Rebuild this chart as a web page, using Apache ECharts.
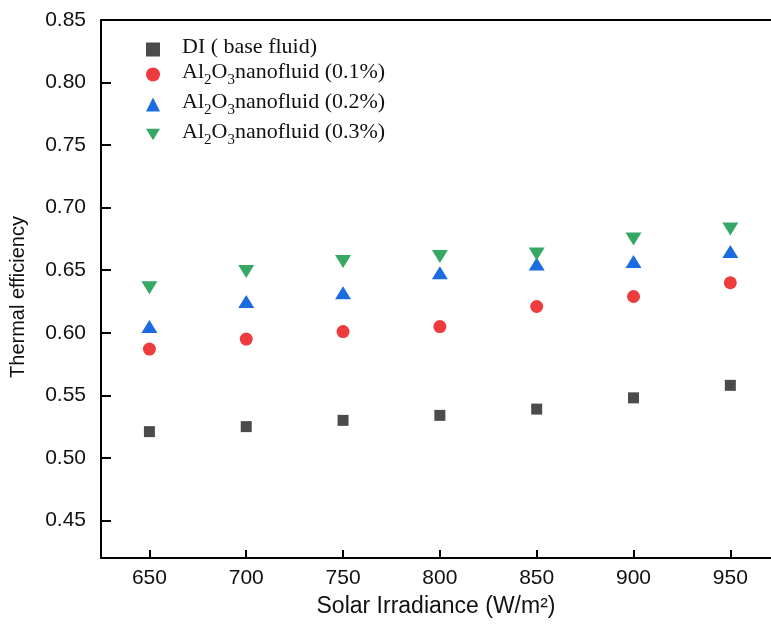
<!DOCTYPE html>
<html>
<head>
<meta charset="utf-8">
<script src="https://cdn.jsdelivr.net/npm/echarts@6/dist/echarts.min.js"></script>
<style>html,body{margin:0;padding:0;background:#fff;}#c{width:771px;height:624px;}</style>
</head>
<body>
<div id="c"></div>
<script>
const irradiance = [650, 700, 750, 800, 850, 900, 950];
const diBase = [0.521, 0.525, 0.530, 0.534, 0.539, 0.548, 0.558];
const al01 = [0.587, 0.595, 0.601, 0.605, 0.621, 0.629, 0.640];
const al02 = [0.605, 0.625, 0.632, 0.648, 0.655, 0.657, 0.665];
const al03 = [0.636, 0.649, 0.657, 0.661, 0.663, 0.675, 0.683];
const xTicks = [650, 700, 750, 800, 850, 900, 950];
const yTicks = [0.45, 0.50, 0.55, 0.60, 0.65, 0.70, 0.75, 0.80, 0.85];
const seriesNames = ['DI ( base fluid)', 'Al2O3nanofluid (0.1%)', 'Al2O3nanofluid (0.2%)', 'Al2O3nanofluid (0.3%)'];

const pair = (vals) => irradiance.map((x, i) => [x, vals[i]]);
const sans = "'Liberation Sans', Arial, sans-serif";
const serif = "'Liberation Serif', 'Times New Roman', serif";

const chart = echarts.init(document.getElementById('c'));
chart.setOption({
  animation: false,
  backgroundColor: '#fff',
  grid: { left: 101, top: 20, right: 0, bottom: 66, containLabel: false },
  legend: {
    orient: 'vertical',
    left: 146,
    top: 36,
    padding: 0,
    itemGap: 3,
    itemWidth: 14,
    itemHeight: 14,
    data: seriesNames,
    formatter: function (name) {
      if (name.indexOf('Al2O3') === 0) {
        return '{a|Al}{s|2}{a|O}{s|3}{a|' + name.slice(5) + '}';
      }
      return '{a|' + name + '}';
    },
    textStyle: {
      padding: [0, 0, 0, 17],
      color: '#111',
      rich: {
        a: { fontFamily: serif, fontSize: 22, lineHeight: 27, color: '#111', verticalAlign: 'top' },
        s: { fontFamily: serif, fontSize: 15, lineHeight: 13, color: '#111', verticalAlign: 'bottom' }
      }
    }
  },
  xAxis: [{
    type: 'value',
    min: 625,
    max: 971,
    position: 'bottom',
    name: 'Solar Irradiance (W/m²)',
    nameLocation: 'middle',
    nameGap: 37,
    nameTextStyle: { fontFamily: sans, fontSize: 23, color: '#111' },
    axisLine: { show: true, lineStyle: { color: '#000', width: 2 } },
    axisTick: { show: true, inside: true, length: 8, lineStyle: { color: '#000', width: 2 }, customValues: xTicks },
    axisLabel: { fontFamily: sans, fontSize: 21, color: '#111', margin: 10, customValues: xTicks },
    splitLine: { show: false }
  }, {
    type: 'value',
    min: 625,
    max: 971,
    position: 'top',
    axisLine: { show: true, onZero: false, lineStyle: { color: '#000', width: 2 } },
    axisTick: { show: false },
    axisLabel: { show: false },
    splitLine: { show: false }
  }],
  yAxis: {
    type: 'value',
    min: 0.42,
    max: 0.85,
    name: 'Thermal efficiency',
    nameLocation: 'middle',
    nameGap: 73,
    nameTextStyle: { fontFamily: sans, fontSize: 20, color: '#111', padding: [0, 16, 0, 0] },
    axisLine: { show: true, lineStyle: { color: '#000', width: 2 } },
    axisTick: { show: true, inside: true, length: 10, lineStyle: { color: '#000', width: 2 }, customValues: yTicks },
    axisLabel: { fontFamily: sans, fontSize: 21, color: '#111', margin: 15, customValues: yTicks,
      formatter: (v) => v.toFixed(2) },
    splitLine: { show: false }
  },
  series: [{
    name: seriesNames[0], type: 'scatter', symbol: 'rect', symbolSize: 11,
    itemStyle: { color: '#4b4b4b', opacity: 1 }, data: pair(diBase)
  }, {
    name: seriesNames[1], type: 'scatter', symbol: 'circle', symbolSize: 13,
    itemStyle: { color: '#ee3b3d', opacity: 1 }, data: pair(al01)
  }, {
    name: seriesNames[2], type: 'scatter', symbol: 'triangle', symbolSize: [16, 13],
    itemStyle: { color: '#1b6ce0', opacity: 1 }, data: pair(al02)
  }, {
    name: seriesNames[3], type: 'scatter', symbol: 'path://M0,0 L16,0 L8,13 Z', symbolSize: [16, 13],
    itemStyle: { color: '#35a864', opacity: 1 }, data: pair(al03)
  }]
});
</script>
</body>
</html>
